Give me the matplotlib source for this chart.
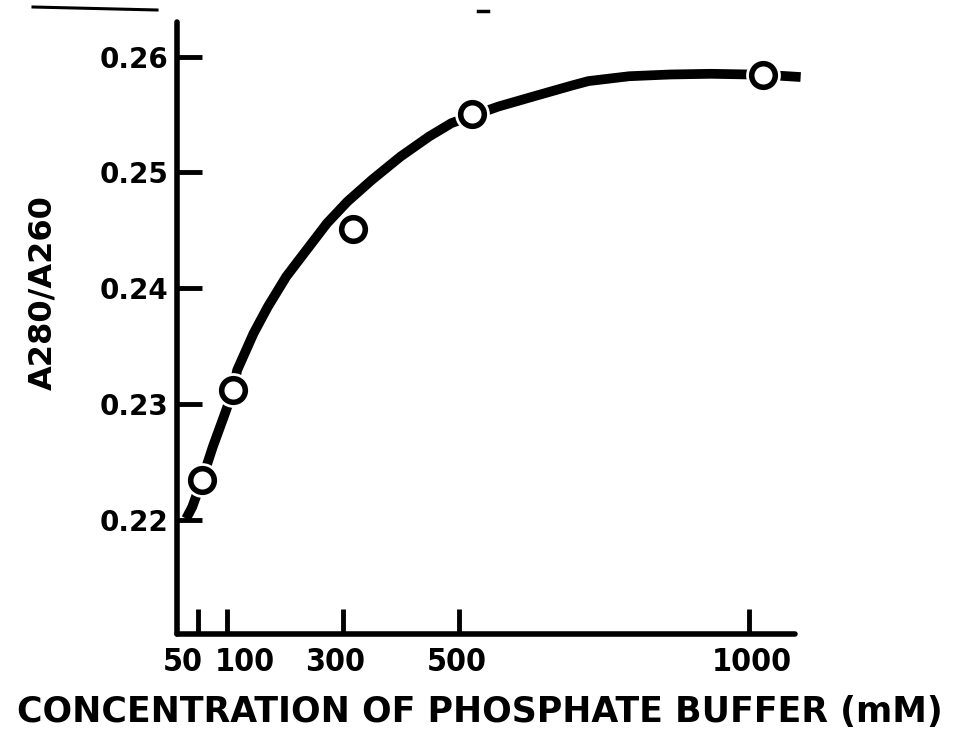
import matplotlib
matplotlib.use('Agg')
import matplotlib.pyplot as plt
from matplotlib.transforms import ScaledTranslation

# measured points (open circles)
conc = [55.9, 110.4, 317.6, 521.7, 1024.5]
ratio = [0.22350, 0.23123, 0.24512, 0.25508, 0.25843]

# hand drawn curve
curve_x = [29.0, 39.5, 57.1, 74.9, 95.9, 110.1, 117.0, 145.2, 169.9, 201.5,
           236.7, 271.9, 307.1, 349.3, 398.7, 448.0, 486.6, 530.3, 567.7,
           631.0, 694.3, 722.6, 793.0, 863.4, 933.8, 1025.4, 1088.7]
curve_y = [0.22015, 0.22115, 0.22360, 0.22633, 0.22921, 0.23123, 0.23295,
           0.23612, 0.23842, 0.24101, 0.24332, 0.24562, 0.24749, 0.24936,
           0.25137, 0.25310, 0.25426, 0.25503, 0.25569, 0.25660, 0.25750,
           0.25788, 0.25830, 0.25845, 0.25851, 0.25843, 0.25823]

xticks = [50, 100, 300, 500, 1000]
yticks = [0.22, 0.23, 0.24, 0.25, 0.26]
ytick_labels = ['0.22', '0.23', '0.24', '0.25', '0.26']

bold = dict(family='DejaVu Sans', weight='bold')
narrow = dict(family='DejaVu Sans', weight='bold', stretch='condensed')

fig = plt.figure(figsize=(9.59, 7.52), dpi=100)
ax = fig.add_axes([0.1846, 0.1569, 0.6444, 0.8142])

# curve, then white halos so the line breaks around the circles
ax.plot(curve_x, curve_y, color='black', lw=7, solid_capstyle='butt',
        solid_joinstyle='round', clip_on=False, zorder=2)
ax.plot(conc, ratio, 'o', ms=25, mfc='white', mec='none', clip_on=False, zorder=3)
ax.plot(conc, ratio, 'o', ms=17, mfc='white', mec='black', mew=4,
        clip_on=False, zorder=4)

ax.set_xlim(13.3, 1079)
ax.set_ylim(0.2102, 0.2630)

for side in ['top', 'right']:
    ax.spines[side].set_visible(False)
for side in ['left', 'bottom']:
    ax.spines[side].set_linewidth(4)
    ax.spines[side].set_capstyle('round')

ax.set_xticks(xticks)
ax.set_xticklabels([str(v) for v in xticks], fontsize=23, **narrow)
ax.set_yticks(yticks)
ax.set_yticklabels(ytick_labels, fontsize=20, **bold)
ax.tick_params(axis='both', direction='in', length=18, width=3.5)
ax.tick_params(axis='x', pad=9)
ax.tick_params(axis='y', pad=6)

# nudge the crowded 50/100 labels apart like in the original
shifts = [-16, 18, -8, -2, 3]
for lab, dx in zip(ax.get_xticklabels(), shifts):
    lab.set_transform(lab.get_transform() + ScaledTranslation(dx / 100, 0, fig.dpi_scale_trans))

fig.text(0.5, 1 - 712 / 752, 'CONCENTRATION OF PHOSPHATE BUFFER (mM)',
         ha='center', va='center', fontsize=25, **bold)
fig.text(43 / 959, 1 - 293 / 752, 'A280/A260', rotation=90,
         ha='center', va='center', fontsize=23, **bold)

# stray marks at the top of the scan
fig.add_artist(plt.Line2D([33 / 959, 157 / 959], [1 - 7 / 752, 1 - 10 / 752],
                          color='black', lw=2.2))
fig.add_artist(plt.Line2D([478 / 959, 488 / 959], [1 - 11 / 752, 1 - 11 / 752],
                          color='black', lw=2.5))

fig.savefig('out.png', dpi=100)
